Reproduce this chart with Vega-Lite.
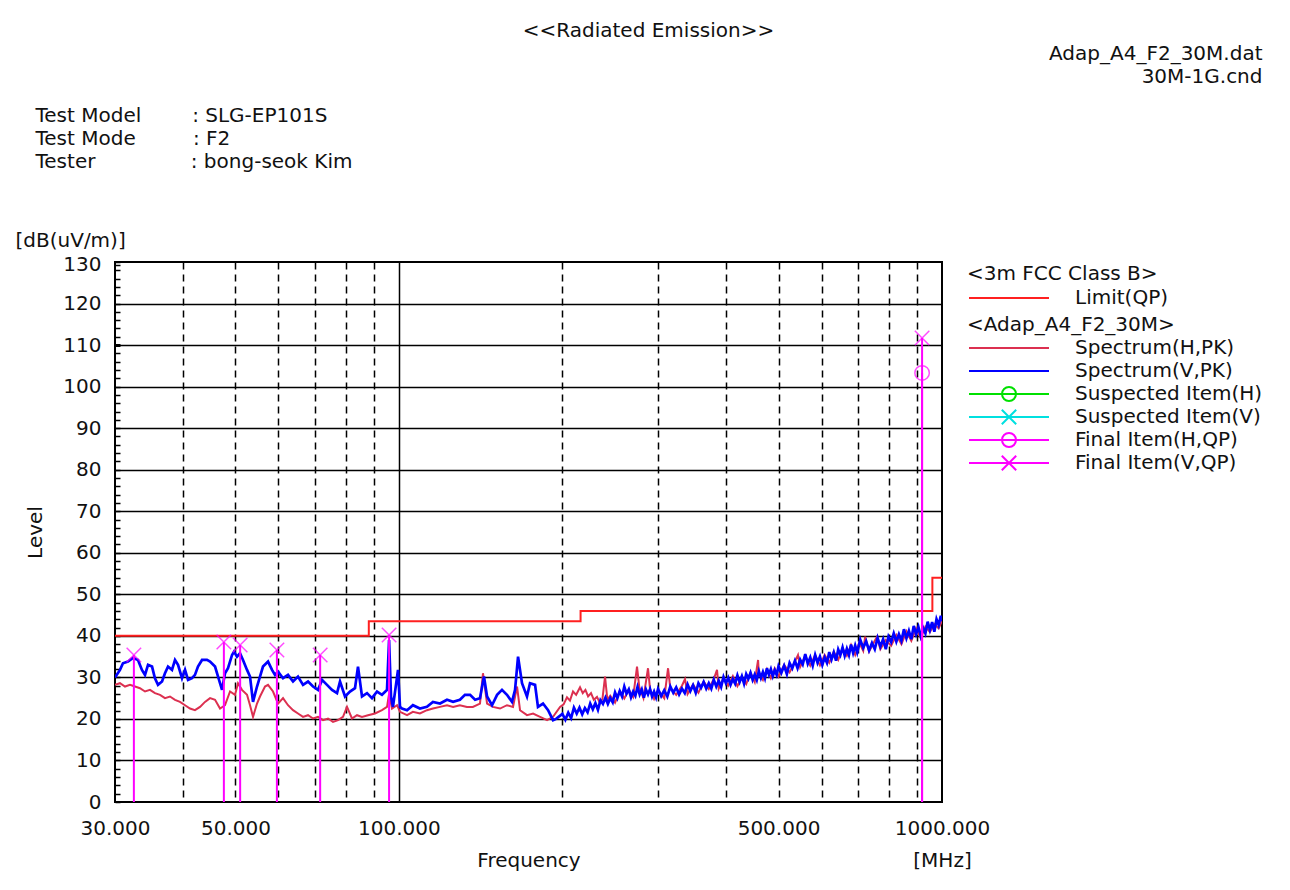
{
  "$schema": "https://vega.github.io/schema/vega-lite/v6.json",
  "width": 827,
  "height": 540,
  "autosize": {"type": "none"},
  "padding": {"left": 115, "top": 262, "right": 348, "bottom": 88},
  "background": "white",
  "config": {
    "font": "DejaVu Sans",
    "view": {"stroke": "#000", "strokeWidth": 2},
    "axis": {"labelFont": "DejaVu Sans", "titleFont": "DejaVu Sans", "labelColor": "#111", "titleColor": "#111", "labelFontSize": 20, "titleFontSize": 20, "titleFontWeight": "normal"},
    "legend": {"titleFont": "DejaVu Sans", "labelFont": "DejaVu Sans", "titleFontSize": 20, "labelFontSize": 20, "titleFontWeight": "normal", "titleColor": "#111", "labelColor": "#111", "labelLimit": 400, "titleLimit": 400}
  },
  "title": {"text": "<<Radiated Emission>>", "anchor": "middle", "frame": "group", "dx": 120, "offset": 2, "fontSize": 20, "fontWeight": "normal", "font": "DejaVu Sans", "color": "#111"},
  "datasets": {
    "limit": [
      {"name": "Limit(QP)", "freq": 30, "level": 40},
      {"name": "Limit(QP)", "freq": 88, "level": 43.5},
      {"name": "Limit(QP)", "freq": 216, "level": 46},
      {"name": "Limit(QP)", "freq": 960, "level": 54},
      {"name": "Limit(QP)", "freq": 1000, "level": 54}
    ],
    "final": [
      {"series": "Final Item(V,QP)", "freq": 32.5, "level": 35.4},
      {"series": "Final Item(V,QP)", "freq": 47.6, "level": 38.5},
      {"series": "Final Item(V,QP)", "freq": 51.0, "level": 37.8},
      {"series": "Final Item(V,QP)", "freq": 59.6, "level": 36.6},
      {"series": "Final Item(V,QP)", "freq": 71.6, "level": 35.4},
      {"series": "Final Item(V,QP)", "freq": 95.9, "level": 40.2},
      {"series": "Final Item(V,QP)", "freq": 919, "level": 111.7},
      {"series": "Final Item(H,QP)", "freq": 919, "level": 103.3}
    ],
    "spectrum": [
      {"series":"Spectrum(H,PK)","freq":30.0,"level":28.2},{"series":"Spectrum(H,PK)","freq":30.64,"level":28.6},{"series":"Spectrum(H,PK)","freq":31.30,"level":27.8},{"series":"Spectrum(H,PK)","freq":31.97,"level":28.2},{"series":"Spectrum(H,PK)","freq":32.65,"level":27.8},{"series":"Spectrum(H,PK)","freq":33.35,"level":27.4},{"series":"Spectrum(H,PK)","freq":34.07,"level":26.6},{"series":"Spectrum(H,PK)","freq":34.80,"level":27.0},{"series":"Spectrum(H,PK)","freq":35.54,"level":26.2},{"series":"Spectrum(H,PK)","freq":36.31,"level":25.8},{"series":"Spectrum(H,PK)","freq":37.08,"level":25.0},{"series":"Spectrum(H,PK)","freq":37.88,"level":25.4},{"series":"Spectrum(H,PK)","freq":38.69,"level":24.6},{"series":"Spectrum(H,PK)","freq":39.52,"level":24.1},{"series":"Spectrum(H,PK)","freq":40.37,"level":23.3},{"series":"Spectrum(H,PK)","freq":41.23,"level":22.5},{"series":"Spectrum(H,PK)","freq":42.11,"level":22.1},{"series":"Spectrum(H,PK)","freq":43.02,"level":22.9},{"series":"Spectrum(H,PK)","freq":43.94,"level":24.1},{"series":"Spectrum(H,PK)","freq":44.89,"level":25.0},{"series":"Spectrum(H,PK)","freq":45.85,"level":24.6},{"series":"Spectrum(H,PK)","freq":46.83,"level":22.5},{"series":"Spectrum(H,PK)","freq":47.83,"level":23.3},{"series":"Spectrum(H,PK)","freq":48.86,"level":26.6},{"series":"Spectrum(H,PK)","freq":49.90,"level":25.8},{"series":"Spectrum(H,PK)","freq":50.54,"level":28.6},{"series":"Spectrum(H,PK)","freq":51.40,"level":27.0},{"series":"Spectrum(H,PK)","freq":52.51,"level":25.8},{"series":"Spectrum(H,PK)","freq":53.18,"level":23.3},{"series":"Spectrum(H,PK)","freq":53.86,"level":20.5},{"series":"Spectrum(H,PK)","freq":54.78,"level":23.7},{"series":"Spectrum(H,PK)","freq":55.48,"level":25.4},{"series":"Spectrum(H,PK)","freq":56.67,"level":27.8},{"series":"Spectrum(H,PK)","freq":57.40,"level":28.2},{"series":"Spectrum(H,PK)","freq":58.63,"level":26.6},{"series":"Spectrum(H,PK)","freq":59.89,"level":23.7},{"series":"Spectrum(H,PK)","freq":61.17,"level":25.0},{"series":"Spectrum(H,PK)","freq":62.48,"level":23.3},{"series":"Spectrum(H,PK)","freq":63.82,"level":22.1},{"series":"Spectrum(H,PK)","freq":65.18,"level":21.3},{"series":"Spectrum(H,PK)","freq":66.58,"level":20.5},{"series":"Spectrum(H,PK)","freq":68.01,"level":20.9},{"series":"Spectrum(H,PK)","freq":69.47,"level":20.1},{"series":"Spectrum(H,PK)","freq":70.96,"level":20.5},{"series":"Spectrum(H,PK)","freq":72.48,"level":19.7},{"series":"Spectrum(H,PK)","freq":74.03,"level":20.1},{"series":"Spectrum(H,PK)","freq":75.61,"level":19.3},{"series":"Spectrum(H,PK)","freq":77.23,"level":19.7},{"series":"Spectrum(H,PK)","freq":78.88,"level":20.5},{"series":"Spectrum(H,PK)","freq":80.23,"level":22.9},{"series":"Spectrum(H,PK)","freq":81.95,"level":20.1},{"series":"Spectrum(H,PK)","freq":83.71,"level":20.9},{"series":"Spectrum(H,PK)","freq":85.50,"level":20.5},{"series":"Spectrum(H,PK)","freq":87.71,"level":20.9},{"series":"Spectrum(H,PK)","freq":90.35,"level":21.3},{"series":"Spectrum(H,PK)","freq":93.06,"level":22.1},{"series":"Spectrum(H,PK)","freq":95.06,"level":22.9},{"series":"Spectrum(H,PK)","freq":95.9,"level":26.0},{"series":"Spectrum(H,PK)","freq":97.1,"level":22.5},{"series":"Spectrum(H,PK)","freq":99.2,"level":23.3},{"series":"Spectrum(H,PK)","freq":100.45,"level":21.7},{"series":"Spectrum(H,PK)","freq":103.5,"level":20.9},{"series":"Spectrum(H,PK)","freq":106.1,"level":21.7},{"series":"Spectrum(H,PK)","freq":109.3,"level":21.3},{"series":"Spectrum(H,PK)","freq":112.6,"level":22.1},{"series":"Spectrum(H,PK)","freq":115.5,"level":22.5},{"series":"Spectrum(H,PK)","freq":119.0,"level":22.9},{"series":"Spectrum(H,PK)","freq":122.6,"level":23.3},{"series":"Spectrum(H,PK)","freq":125.8,"level":22.9},{"series":"Spectrum(H,PK)","freq":129.5,"level":23.3},{"series":"Spectrum(H,PK)","freq":133.4,"level":22.9},{"series":"Spectrum(H,PK)","freq":136.8,"level":22.9},{"series":"Spectrum(H,PK)","freq":141.0,"level":23.7},{"series":"Spectrum(H,PK)","freq":142.8,"level":31.0},{"series":"Spectrum(H,PK)","freq":145.3,"level":23.7},{"series":"Spectrum(H,PK)","freq":149.0,"level":22.9},{"series":"Spectrum(H,PK)","freq":153.5,"level":22.5},{"series":"Spectrum(H,PK)","freq":158.1,"level":23.3},{"series":"Spectrum(H,PK)","freq":162.2,"level":22.9},{"series":"Spectrum(H,PK)","freq":165.0,"level":27.8},{"series":"Spectrum(H,PK)","freq":167.1,"level":22.1},{"series":"Spectrum(H,PK)","freq":172.1,"level":20.9},{"series":"Spectrum(H,PK)","freq":176.6,"level":21.3},{"series":"Spectrum(H,PK)","freq":181.9,"level":20.5},{"series":"Spectrum(H,PK)","freq":187.4,"level":19.7},{"series":"Spectrum(H,PK)","freq":192.2,"level":20.5},{"series":"Spectrum(H,PK)","freq":198.0,"level":22.9},
      {"series":"Spectrum(H,PK)","freq":201,"level":23.5},{"series":"Spectrum(H,PK)","freq":203.9,"level":25.2},{"series":"Spectrum(H,PK)","freq":206.5,"level":24.4},{"series":"Spectrum(H,PK)","freq":209.2,"level":26.6},{"series":"Spectrum(H,PK)","freq":212,"level":25.8},{"series":"Spectrum(H,PK)","freq":215.5,"level":27.6},{"series":"Spectrum(H,PK)","freq":218,"level":26.2},{"series":"Spectrum(H,PK)","freq":220.5,"level":27.0},{"series":"Spectrum(H,PK)","freq":223,"level":25.4},{"series":"Spectrum(H,PK)","freq":225.8,"level":26.2},{"series":"Spectrum(H,PK)","freq":228.5,"level":24.6},{"series":"Spectrum(H,PK)","freq":231.6,"level":25.3},{"series":"Spectrum(H,PK)","freq":234.5,"level":23.8},{"series":"Spectrum(H,PK)","freq":237,"level":24.8},{"series":"Spectrum(H,PK)","freq":239.6,"level":30.2},{"series":"Spectrum(H,PK)","freq":242,"level":24.6},
      {"series":"Spectrum(H,PK)","freq":245,"level":25.6},{"series":"Spectrum(H,PK)","freq":250,"level":23.9},{"series":"Spectrum(H,PK)","freq":255,"level":26.7},{"series":"Spectrum(H,PK)","freq":260,"level":24.9},{"series":"Spectrum(H,PK)","freq":265,"level":27.0},{"series":"Spectrum(H,PK)","freq":270,"level":25.3},{"series":"Spectrum(H,PK)","freq":274.4,"level":32.6},{"series":"Spectrum(H,PK)","freq":277,"level":27.7},{"series":"Spectrum(H,PK)","freq":282,"level":25.0},{"series":"Spectrum(H,PK)","freq":287.5,"level":32.2},{"series":"Spectrum(H,PK)","freq":290,"level":27.2},{"series":"Spectrum(H,PK)","freq":295,"level":24.8},{"series":"Spectrum(H,PK)","freq":300,"level":26.9},{"series":"Spectrum(H,PK)","freq":308,"level":25.0},{"series":"Spectrum(H,PK)","freq":313,"level":32.2},{"series":"Spectrum(H,PK)","freq":316,"level":27.4},{"series":"Spectrum(H,PK)","freq":324,"level":25.8},{"series":"Spectrum(H,PK)","freq":332,"level":28.0},{"series":"Spectrum(H,PK)","freq":336.3,"level":29.6},{"series":"Spectrum(H,PK)","freq":340,"level":26.0},{"series":"Spectrum(H,PK)","freq":348,"level":28.3},{"series":"Spectrum(H,PK)","freq":356,"level":26.3},{"series":"Spectrum(H,PK)","freq":364,"level":29.0},{"series":"Spectrum(H,PK)","freq":372,"level":27.2},{"series":"Spectrum(H,PK)","freq":380,"level":29.6},{"series":"Spectrum(H,PK)","freq":385.2,"level":31.8},{"series":"Spectrum(H,PK)","freq":388,"level":27.3},{"series":"Spectrum(H,PK)","freq":396,"level":29.9},{"series":"Spectrum(H,PK)","freq":404,"level":28.0},{"series":"Spectrum(H,PK)","freq":412,"level":30.3},{"series":"Spectrum(H,PK)","freq":420,"level":27.9},{"series":"Spectrum(H,PK)","freq":428,"level":30.1},{"series":"Spectrum(H,PK)","freq":436,"level":28.4},{"series":"Spectrum(H,PK)","freq":444,"level":31.2},{"series":"Spectrum(H,PK)","freq":452,"level":28.9},{"series":"Spectrum(H,PK)","freq":458.5,"level":34.2},{"series":"Spectrum(H,PK)","freq":460,"level":31.0},{"series":"Spectrum(H,PK)","freq":468,"level":29.4},{"series":"Spectrum(H,PK)","freq":476,"level":32.0},{"series":"Spectrum(H,PK)","freq":484,"level":29.8},{"series":"Spectrum(H,PK)","freq":492,"level":32.2},{"series":"Spectrum(H,PK)","freq":500,"level":30.2},{"series":"Spectrum(H,PK)","freq":512,"level":33.0},{"series":"Spectrum(H,PK)","freq":524,"level":31.2},{"series":"Spectrum(H,PK)","freq":536,"level":33.8},{"series":"Spectrum(H,PK)","freq":543,"level":35.4},{"series":"Spectrum(H,PK)","freq":548,"level":32.5},{"series":"Spectrum(H,PK)","freq":560,"level":35.2},{"series":"Spectrum(H,PK)","freq":572,"level":32.8},{"series":"Spectrum(H,PK)","freq":584,"level":35.4},{"series":"Spectrum(H,PK)","freq":596,"level":32.9},{"series":"Spectrum(H,PK)","freq":608,"level":35.4},{"series":"Spectrum(H,PK)","freq":620,"level":33.5},{"series":"Spectrum(H,PK)","freq":632,"level":36.2},{"series":"Spectrum(H,PK)","freq":644,"level":34.2},{"series":"Spectrum(H,PK)","freq":656,"level":37.0},{"series":"Spectrum(H,PK)","freq":668,"level":35.2},{"series":"Spectrum(H,PK)","freq":680,"level":37.8},{"series":"Spectrum(H,PK)","freq":692,"level":35.4},{"series":"Spectrum(H,PK)","freq":704,"level":38.4},{"series":"Spectrum(H,PK)","freq":716,"level":36.4},{"series":"Spectrum(H,PK)","freq":721.9,"level":39.8},{"series":"Spectrum(H,PK)","freq":734,"level":36.2},{"series":"Spectrum(H,PK)","freq":752,"level":38.8},{"series":"Spectrum(H,PK)","freq":759.3,"level":39.8},{"series":"Spectrum(H,PK)","freq":770,"level":36.8},{"series":"Spectrum(H,PK)","freq":788,"level":39.0},{"series":"Spectrum(H,PK)","freq":806,"level":37.6},{"series":"Spectrum(H,PK)","freq":824,"level":40.2},{"series":"Spectrum(H,PK)","freq":842,"level":38.0},{"series":"Spectrum(H,PK)","freq":860,"level":41.1},{"series":"Spectrum(H,PK)","freq":878,"level":38.8},{"series":"Spectrum(H,PK)","freq":896,"level":41.8},{"series":"Spectrum(H,PK)","freq":914,"level":39.4},{"series":"Spectrum(H,PK)","freq":932,"level":42.2},{"series":"Spectrum(H,PK)","freq":950,"level":40.9},{"series":"Spectrum(H,PK)","freq":968,"level":42.8},{"series":"Spectrum(H,PK)","freq":986,"level":41.8},{"series":"Spectrum(H,PK)","freq":1000,"level":43.6},
      {"series":"Spectrum(V,PK)","freq":30.0,"level":30.0},{"series":"Spectrum(V,PK)","freq":30.64,"level":31.8},{"series":"Spectrum(V,PK)","freq":31.03,"level":33.4},{"series":"Spectrum(V,PK)","freq":31.70,"level":33.8},{"series":"Spectrum(V,PK)","freq":32.38,"level":34.7},{"series":"Spectrum(V,PK)","freq":33.07,"level":34.2},{"series":"Spectrum(V,PK)","freq":33.63,"level":31.8},{"series":"Spectrum(V,PK)","freq":34.07,"level":30.6},{"series":"Spectrum(V,PK)","freq":34.51,"level":33.0},{"series":"Spectrum(V,PK)","freq":35.10,"level":32.6},{"series":"Spectrum(V,PK)","freq":35.54,"level":29.8},{"series":"Spectrum(V,PK)","freq":36.00,"level":28.2},{"series":"Spectrum(V,PK)","freq":36.62,"level":29.0},{"series":"Spectrum(V,PK)","freq":37.08,"level":31.0},{"series":"Spectrum(V,PK)","freq":37.56,"level":32.6},{"series":"Spectrum(V,PK)","freq":38.20,"level":31.8},{"series":"Spectrum(V,PK)","freq":38.69,"level":34.2},{"series":"Spectrum(V,PK)","freq":39.19,"level":33.0},{"series":"Spectrum(V,PK)","freq":39.86,"level":29.8},{"series":"Spectrum(V,PK)","freq":40.37,"level":31.8},{"series":"Spectrum(V,PK)","freq":40.89,"level":29.4},{"series":"Spectrum(V,PK)","freq":41.58,"level":29.8},{"series":"Spectrum(V,PK)","freq":42.11,"level":30.6},{"series":"Spectrum(V,PK)","freq":42.65,"level":32.6},{"series":"Spectrum(V,PK)","freq":43.39,"level":34.2},{"series":"Spectrum(V,PK)","freq":44.31,"level":34.2},{"series":"Spectrum(V,PK)","freq":44.89,"level":33.8},{"series":"Spectrum(V,PK)","freq":45.85,"level":32.6},{"series":"Spectrum(V,PK)","freq":46.44,"level":30.2},{"series":"Spectrum(V,PK)","freq":47.23,"level":27.0},{"series":"Spectrum(V,PK)","freq":47.83,"level":31.0},{"series":"Spectrum(V,PK)","freq":48.44,"level":32.2},{"series":"Spectrum(V,PK)","freq":49.28,"level":35.4},{"series":"Spectrum(V,PK)","freq":49.70,"level":36.2},{"series":"Spectrum(V,PK)","freq":50.32,"level":35.0},{"series":"Spectrum(V,PK)","freq":50.97,"level":35.8},{"series":"Spectrum(V,PK)","freq":51.62,"level":34.2},{"series":"Spectrum(V,PK)","freq":52.51,"level":31.8},{"series":"Spectrum(V,PK)","freq":53.18,"level":30.2},{"series":"Spectrum(V,PK)","freq":53.86,"level":24.1},{"series":"Spectrum(V,PK)","freq":54.78,"level":27.8},{"series":"Spectrum(V,PK)","freq":55.48,"level":30.2},{"series":"Spectrum(V,PK)","freq":56.19,"level":32.6},{"series":"Spectrum(V,PK)","freq":57.40,"level":33.8},{"series":"Spectrum(V,PK)","freq":58.38,"level":31.8},{"series":"Spectrum(V,PK)","freq":59.13,"level":30.6},{"series":"Spectrum(V,PK)","freq":59.89,"level":31.4},{"series":"Spectrum(V,PK)","freq":61.17,"level":29.8},{"series":"Spectrum(V,PK)","freq":62.48,"level":30.6},{"series":"Spectrum(V,PK)","freq":63.82,"level":29.0},{"series":"Spectrum(V,PK)","freq":65.18,"level":30.2},{"series":"Spectrum(V,PK)","freq":66.58,"level":28.2},{"series":"Spectrum(V,PK)","freq":68.01,"level":29.0},{"series":"Spectrum(V,PK)","freq":69.47,"level":27.8},{"series":"Spectrum(V,PK)","freq":70.96,"level":27.0},{"series":"Spectrum(V,PK)","freq":72.17,"level":29.4},{"series":"Spectrum(V,PK)","freq":73.71,"level":28.2},{"series":"Spectrum(V,PK)","freq":75.29,"level":27.0},{"series":"Spectrum(V,PK)","freq":76.91,"level":26.2},{"series":"Spectrum(V,PK)","freq":77.89,"level":29.0},{"series":"Spectrum(V,PK)","freq":79.56,"level":25.4},{"series":"Spectrum(V,PK)","freq":81.26,"level":26.6},{"series":"Spectrum(V,PK)","freq":83.00,"level":27.4},{"series":"Spectrum(V,PK)","freq":84.06,"level":32.6},{"series":"Spectrum(V,PK)","freq":85.50,"level":25.4},{"series":"Spectrum(V,PK)","freq":87.34,"level":26.2},{"series":"Spectrum(V,PK)","freq":89.20,"level":25.0},{"series":"Spectrum(V,PK)","freq":91.12,"level":26.6},{"series":"Spectrum(V,PK)","freq":93.06,"level":25.8},{"series":"Spectrum(V,PK)","freq":95.06,"level":27.0},{"series":"Spectrum(V,PK)","freq":95.9,"level":39.0},{"series":"Spectrum(V,PK)","freq":96.69,"level":25.4},{"series":"Spectrum(V,PK)","freq":97.5,"level":22.9},{"series":"Spectrum(V,PK)","freq":99.6,"level":31.8},{"series":"Spectrum(V,PK)","freq":100.45,"level":22.9},{"series":"Spectrum(V,PK)","freq":101.3,"level":22.5},{"series":"Spectrum(V,PK)","freq":103.5,"level":22.1},{"series":"Spectrum(V,PK)","freq":106.1,"level":23.3},{"series":"Spectrum(V,PK)","freq":109.3,"level":22.5},{"series":"Spectrum(V,PK)","freq":112.6,"level":22.9},{"series":"Spectrum(V,PK)","freq":115.5,"level":24.1},{"series":"Spectrum(V,PK)","freq":119.0,"level":23.7},{"series":"Spectrum(V,PK)","freq":122.6,"level":24.6},{"series":"Spectrum(V,PK)","freq":125.8,"level":24.1},{"series":"Spectrum(V,PK)","freq":129.5,"level":24.6},{"series":"Spectrum(V,PK)","freq":132.3,"level":25.8},{"series":"Spectrum(V,PK)","freq":135.2,"level":25.8},{"series":"Spectrum(V,PK)","freq":138.1,"level":24.6},{"series":"Spectrum(V,PK)","freq":141.0,"level":25.0},{"series":"Spectrum(V,PK)","freq":143.4,"level":30.2},{"series":"Spectrum(V,PK)","freq":145.3,"level":25.4},{"series":"Spectrum(V,PK)","freq":148.4,"level":23.3},{"series":"Spectrum(V,PK)","freq":151.6,"level":25.8},{"series":"Spectrum(V,PK)","freq":154.8,"level":27.0},{"series":"Spectrum(V,PK)","freq":158.1,"level":25.8},{"series":"Spectrum(V,PK)","freq":161.5,"level":24.1},{"series":"Spectrum(V,PK)","freq":163.6,"level":27.0},{"series":"Spectrum(V,PK)","freq":165.7,"level":35.0},{"series":"Spectrum(V,PK)","freq":168.5,"level":28.6},{"series":"Spectrum(V,PK)","freq":172.1,"level":25.4},{"series":"Spectrum(V,PK)","freq":174.3,"level":28.6},{"series":"Spectrum(V,PK)","freq":178.1,"level":28.2},{"series":"Spectrum(V,PK)","freq":180.3,"level":22.9},{"series":"Spectrum(V,PK)","freq":184.2,"level":23.7},{"series":"Spectrum(V,PK)","freq":188.2,"level":22.1},{"series":"Spectrum(V,PK)","freq":192.2,"level":19.7},{"series":"Spectrum(V,PK)","freq":194.7,"level":20.0},
      {"series":"Spectrum(V,PK)","freq":200,"level":21.2},{"series":"Spectrum(V,PK)","freq":202.5,"level":19.8},{"series":"Spectrum(V,PK)","freq":205,"level":21.5},{"series":"Spectrum(V,PK)","freq":207.5,"level":20.2},{"series":"Spectrum(V,PK)","freq":210,"level":22.7},{"series":"Spectrum(V,PK)","freq":212.5,"level":21.3},{"series":"Spectrum(V,PK)","freq":215,"level":22.7},{"series":"Spectrum(V,PK)","freq":217.5,"level":21.1},{"series":"Spectrum(V,PK)","freq":220,"level":22.6},{"series":"Spectrum(V,PK)","freq":222.5,"level":21.6},{"series":"Spectrum(V,PK)","freq":225,"level":23.7},{"series":"Spectrum(V,PK)","freq":227.5,"level":22.3},{"series":"Spectrum(V,PK)","freq":230,"level":23.8},{"series":"Spectrum(V,PK)","freq":232.5,"level":22.2},{"series":"Spectrum(V,PK)","freq":235,"level":24.5},{"series":"Spectrum(V,PK)","freq":237.5,"level":23.6},{"series":"Spectrum(V,PK)","freq":240,"level":25.1},{"series":"Spectrum(V,PK)","freq":242.5,"level":23.6},{"series":"Spectrum(V,PK)","freq":245,"level":25.0},{"series":"Spectrum(V,PK)","freq":247.5,"level":24.0},{"series":"Spectrum(V,PK)","freq":250,"level":26.4},{"series":"Spectrum(V,PK)","freq":252.5,"level":25.0},{"series":"Spectrum(V,PK)","freq":255,"level":26.7},{"series":"Spectrum(V,PK)","freq":257.5,"level":25.4},{"series":"Spectrum(V,PK)","freq":260,"level":27.8},{"series":"Spectrum(V,PK)","freq":262.5,"level":26.1},{"series":"Spectrum(V,PK)","freq":265,"level":27.1},{"series":"Spectrum(V,PK)","freq":267.5,"level":25.2},{"series":"Spectrum(V,PK)","freq":270,"level":26.6},{"series":"Spectrum(V,PK)","freq":272.5,"level":25.6},{"series":"Spectrum(V,PK)","freq":275,"level":27.7},{"series":"Spectrum(V,PK)","freq":277.5,"level":25.9},{"series":"Spectrum(V,PK)","freq":280,"level":27.1},{"series":"Spectrum(V,PK)","freq":282.5,"level":25.1},{"series":"Spectrum(V,PK)","freq":285,"level":27.1},{"series":"Spectrum(V,PK)","freq":287.5,"level":25.9},{"series":"Spectrum(V,PK)","freq":290,"level":27.2},{"series":"Spectrum(V,PK)","freq":292.5,"level":25.4},{"series":"Spectrum(V,PK)","freq":295,"level":26.6},{"series":"Spectrum(V,PK)","freq":297.5,"level":25.2},{"series":"Spectrum(V,PK)","freq":300,"level":27.2},
      {"series":"Spectrum(V,PK)","freq":304,"level":25.5},{"series":"Spectrum(V,PK)","freq":308,"level":26.9},{"series":"Spectrum(V,PK)","freq":312,"level":25.4},{"series":"Spectrum(V,PK)","freq":316,"level":27.8},{"series":"Spectrum(V,PK)","freq":320,"level":26.3},{"series":"Spectrum(V,PK)","freq":324,"level":27.6},{"series":"Spectrum(V,PK)","freq":328,"level":25.9},{"series":"Spectrum(V,PK)","freq":332,"level":27.3},{"series":"Spectrum(V,PK)","freq":336,"level":26.2},{"series":"Spectrum(V,PK)","freq":340,"level":28.3},{"series":"Spectrum(V,PK)","freq":344,"level":26.7},{"series":"Spectrum(V,PK)","freq":348,"level":28.1},{"series":"Spectrum(V,PK)","freq":352,"level":26.3},{"series":"Spectrum(V,PK)","freq":356,"level":28.6},{"series":"Spectrum(V,PK)","freq":360,"level":27.5},{"series":"Spectrum(V,PK)","freq":364,"level":28.9},{"series":"Spectrum(V,PK)","freq":368,"level":27.3},{"series":"Spectrum(V,PK)","freq":372,"level":28.6},{"series":"Spectrum(V,PK)","freq":376,"level":27.3},{"series":"Spectrum(V,PK)","freq":380,"level":29.4},{"series":"Spectrum(V,PK)","freq":384,"level":27.8},{"series":"Spectrum(V,PK)","freq":388,"level":29.2},{"series":"Spectrum(V,PK)","freq":392,"level":27.7},{"series":"Spectrum(V,PK)","freq":396,"level":30.1},{"series":"Spectrum(V,PK)","freq":400,"level":28.6},{"series":"Spectrum(V,PK)","freq":404,"level":29.9},{"series":"Spectrum(V,PK)","freq":408,"level":28.2},{"series":"Spectrum(V,PK)","freq":412,"level":29.6},{"series":"Spectrum(V,PK)","freq":416,"level":28.5},{"series":"Spectrum(V,PK)","freq":420,"level":30.5},{"series":"Spectrum(V,PK)","freq":424,"level":28.9},{"series":"Spectrum(V,PK)","freq":428,"level":30.3},{"series":"Spectrum(V,PK)","freq":432,"level":28.5},{"series":"Spectrum(V,PK)","freq":436,"level":30.8},{"series":"Spectrum(V,PK)","freq":440,"level":29.7},{"series":"Spectrum(V,PK)","freq":444,"level":31.1},{"series":"Spectrum(V,PK)","freq":448,"level":29.4},{"series":"Spectrum(V,PK)","freq":452,"level":30.7},{"series":"Spectrum(V,PK)","freq":456,"level":29.4},{"series":"Spectrum(V,PK)","freq":460,"level":31.5},{"series":"Spectrum(V,PK)","freq":464,"level":29.9},{"series":"Spectrum(V,PK)","freq":468,"level":31.3},{"series":"Spectrum(V,PK)","freq":472,"level":29.8},{"series":"Spectrum(V,PK)","freq":476,"level":32.2},{"series":"Spectrum(V,PK)","freq":480,"level":30.7},{"series":"Spectrum(V,PK)","freq":484,"level":32.0},{"series":"Spectrum(V,PK)","freq":488,"level":30.3},{"series":"Spectrum(V,PK)","freq":492,"level":31.7},{"series":"Spectrum(V,PK)","freq":496,"level":30.6},{"series":"Spectrum(V,PK)","freq":500,"level":32.7},
      {"series":"Spectrum(V,PK)","freq":506,"level":31.1},{"series":"Spectrum(V,PK)","freq":512,"level":32.8},{"series":"Spectrum(V,PK)","freq":518,"level":30.8},{"series":"Spectrum(V,PK)","freq":524,"level":33.5},{"series":"Spectrum(V,PK)","freq":530,"level":32.2},{"series":"Spectrum(V,PK)","freq":536,"level":34.0},{"series":"Spectrum(V,PK)","freq":542,"level":32.2},{"series":"Spectrum(V,PK)","freq":548,"level":34.3},{"series":"Spectrum(V,PK)","freq":554,"level":33.1},{"series":"Spectrum(V,PK)","freq":560,"level":35.6},{"series":"Spectrum(V,PK)","freq":566,"level":33.3},{"series":"Spectrum(V,PK)","freq":572,"level":34.8},{"series":"Spectrum(V,PK)","freq":578,"level":32.8},{"series":"Spectrum(V,PK)","freq":584,"level":35.4},{"series":"Spectrum(V,PK)","freq":590,"level":33.5},{"series":"Spectrum(V,PK)","freq":596,"level":35.0},{"series":"Spectrum(V,PK)","freq":602,"level":33.0},{"series":"Spectrum(V,PK)","freq":608,"level":34.8},{"series":"Spectrum(V,PK)","freq":614,"level":33.5},{"series":"Spectrum(V,PK)","freq":620,"level":36.1},{"series":"Spectrum(V,PK)","freq":626,"level":34.3},{"series":"Spectrum(V,PK)","freq":632,"level":36.0},{"series":"Spectrum(V,PK)","freq":638,"level":34.0},{"series":"Spectrum(V,PK)","freq":644,"level":36.7},{"series":"Spectrum(V,PK)","freq":650,"level":35.4},{"series":"Spectrum(V,PK)","freq":656,"level":37.2},{"series":"Spectrum(V,PK)","freq":662,"level":35.2},{"series":"Spectrum(V,PK)","freq":668,"level":36.9},{"series":"Spectrum(V,PK)","freq":674,"level":35.4},{"series":"Spectrum(V,PK)","freq":680,"level":37.9},{"series":"Spectrum(V,PK)","freq":686,"level":35.9},{"series":"Spectrum(V,PK)","freq":692,"level":37.7},{"series":"Spectrum(V,PK)","freq":698,"level":36.0},
      {"series":"Spectrum(V,PK)","freq":707,"level":39.1},{"series":"Spectrum(V,PK)","freq":716,"level":37.1},{"series":"Spectrum(V,PK)","freq":725,"level":38.7},{"series":"Spectrum(V,PK)","freq":734,"level":36.5},{"series":"Spectrum(V,PK)","freq":743,"level":38.3},{"series":"Spectrum(V,PK)","freq":752,"level":36.8},{"series":"Spectrum(V,PK)","freq":761,"level":39.5},{"series":"Spectrum(V,PK)","freq":770,"level":37.4},{"series":"Spectrum(V,PK)","freq":779,"level":39.2},{"series":"Spectrum(V,PK)","freq":788,"level":36.8},{"series":"Spectrum(V,PK)","freq":797,"level":39.8},{"series":"Spectrum(V,PK)","freq":806,"level":38.5},{"series":"Spectrum(V,PK)","freq":815,"level":40.6},{"series":"Spectrum(V,PK)","freq":824,"level":38.6},{"series":"Spectrum(V,PK)","freq":833,"level":40.4},{"series":"Spectrum(V,PK)","freq":842,"level":38.8},{"series":"Spectrum(V,PK)","freq":851,"level":41.6},{"series":"Spectrum(V,PK)","freq":860,"level":39.4},{"series":"Spectrum(V,PK)","freq":869,"level":41.2},{"series":"Spectrum(V,PK)","freq":878,"level":39.2},{"series":"Spectrum(V,PK)","freq":887,"level":42.4},{"series":"Spectrum(V,PK)","freq":896,"level":40.4},{"series":"Spectrum(V,PK)","freq":905,"level":42.1},{"series":"Spectrum(V,PK)","freq":914,"level":39.9},{"series":"Spectrum(V,PK)","freq":923,"level":41.9},{"series":"Spectrum(V,PK)","freq":932,"level":40.6},{"series":"Spectrum(V,PK)","freq":941,"level":43.4},{"series":"Spectrum(V,PK)","freq":950,"level":41.4},{"series":"Spectrum(V,PK)","freq":959,"level":43.3},{"series":"Spectrum(V,PK)","freq":968,"level":41.0},{"series":"Spectrum(V,PK)","freq":977,"level":44.0},{"series":"Spectrum(V,PK)","freq":986,"level":42.6},{"series":"Spectrum(V,PK)","freq":995,"level":44.8},{"series":"Spectrum(V,PK)","freq":1000,"level":43.5}
    ]
  },
  "layer": [
    {
      "data": {"name": "spectrum"},
      "transform": [{"filter": "datum.series === 'Spectrum(H,PK)'"}],
      "mark": {"type": "line", "strokeWidth": 2, "clip": true},
      "encoding": {
        "x": {
          "field": "freq", "type": "quantitative",
          "scale": {"type": "log", "domain": [30, 1000], "nice": false},
          "axis": {
            "values": [30, 40, 50, 60, 70, 80, 90, 100, 200, 300, 400, 500, 600, 700, 800, 900, 1000],
            "labelExpr": "datum.value === 1000 ? ['1000.000', '[MHz]'] : (indexof([30, 50, 100, 500], datum.value) >= 0 ? format(datum.value, '.3f') : '')",
            "labelLineHeight": 32, "labelPadding": 16, "labelFlush": false, "labelOverlap": false, "labelBound": false,
            "ticks": false, "tickSize": 0, "domain": false,
            "grid": true, "gridColor": "#000", "gridWidth": 1.5,
            "gridDash": {"condition": {"test": "datum.value === 100", "value": []}, "value": [7, 5]},
            "gridOpacity": {"condition": {"test": "datum.value === 30 || datum.value === 1000", "value": 0}, "value": 1},
            "title": "Frequency", "titleY": 58, "titleBaseline": "middle"
          }
        },
        "y": {
          "field": "level", "type": "quantitative",
          "scale": {"domain": [0, 130], "nice": false},
          "axis": {
            "values": [0,2,4,6,8,10,12,14,16,18,20,22,24,26,28,30,32,34,36,38,40,42,44,46,48,50,52,54,56,58,60,62,64,66,68,70,72,74,76,78,80,82,84,86,88,90,92,94,96,98,100,102,104,106,108,110,112,114,116,118,120,122,124,126,128,129.3,130],
            "ticks": true, "tickSize": -5, "tickColor": "#000",
            "tickWidth": {"condition": {"test": "datum.value === 110", "value": 3}, "value": 1.5},
            "labelExpr": "datum.value === 130 ? '[dB(uV/m)]' : (datum.value > 129 ? '130' : (datum.value % 10 === 0 ? '' + datum.value : ''))",
            "labelAlign": {"condition": {"test": "datum.value === 130", "value": "left"}, "value": "right"},
            "labelPadding": {"condition": {"test": "datum.value === 130", "value": 105}, "value": 19},
            "labelOffset": {"condition": {"test": "datum.value === 130", "value": -22}, "value": 0},
            "labelOverlap": false, "labelBound": false, "labelFlush": false,
            "domain": false,
            "grid": true, "gridColor": "#000", "gridWidth": 1.5,
            "gridOpacity": {"condition": {"test": "datum.value % 10 === 0 && datum.value > 0 && datum.value < 130", "value": 1}, "value": 0},
            "title": "Level", "titleX": -80, "titleBaseline": "middle"
          }
        },
        "color": {
          "field": "series", "type": "nominal",
          "scale": {
            "domain": ["Spectrum(H,PK)", "Spectrum(V,PK)", "Suspected Item(H)", "Suspected Item(V)", "Final Item(H,QP)", "Final Item(V,QP)"],
            "range": ["#dc3050", "#0000ff", "#00e000", "#00e0e0", "#ff00ff", "#ff00ff"]
          },
          "legend": {
            "orient": "none", "legendX": 852, "legendY": 53,
            "title": "<Adap_A4_F2_30M>",
            "symbolType": "M-1,0L9,0", "symbolSize": 256, "symbolStrokeWidth": 2,
            "labelOffset": 88, "padding": 0, "titlePadding": 3, "rowPadding": -1, "gridAlign": "all",
            "encode": {
              "symbols": {
                "update": {
                  "shape": {"signal": "datum.value === 'Suspected Item(H)' || datum.value === 'Final Item(H,QP)' ? 'M-1,0L9,0M4.875,0A0.875,0.875,0,1,1,3.125,0A0.875,0.875,0,1,1,4.875,0' : (datum.value === 'Suspected Item(V)' || datum.value === 'Final Item(V,QP)' ? 'M-1,0L9,0M3.1,-0.9L4.9,0.9M4.9,-0.9L3.1,0.9' : 'M-1,0L9,0')"},
                  "fill": {"value": "transparent"}
                }
              }
            }
          }
        }
      }
    },
    {
      "data": {"name": "spectrum"},
      "transform": [{"filter": "datum.series === 'Spectrum(V,PK)'"}],
      "mark": {"type": "line", "strokeWidth": 2.7, "clip": true},
      "encoding": {
        "x": {"field": "freq", "type": "quantitative", "axis": null},
        "y": {"field": "level", "type": "quantitative", "axis": null},
        "color": {"field": "series", "type": "nominal"}
      }
    },
    {
      "data": {"name": "limit"},
      "mark": {"type": "line", "interpolate": "step-after", "strokeWidth": 2},
      "encoding": {
        "x": {
          "field": "freq", "type": "quantitative",
          "axis": {
            "orient": "top", "domain": false, "ticks": false, "labels": false, "grid": false,
            "title": ["Test Model\u00a0\u00a0\u00a0\u00a0\u00a0\u00a0\u00a0\u00a0: SLG-EP101S", "Test Mode\u00a0\u00a0\u00a0\u00a0\u00a0\u00a0\u00a0\u00a0\u00a0: F2", "Tester\u00a0\u00a0\u00a0\u00a0\u00a0\u00a0\u00a0\u00a0\u00a0\u00a0\u00a0\u00a0\u00a0\u00a0\u00a0: bong-seok Kim"],
            "titleX": -80, "titleY": -147, "titleAlign": "left", "titleAngle": 0, "titleBaseline": "middle", "titleLineHeight": 23
          }
        },
        "y": {
          "field": "level", "type": "quantitative",
          "axis": {
            "orient": "right", "domain": false, "ticks": false, "labels": false, "grid": false,
            "title": ["Adap_A4_F2_30M.dat", "30M-1G.cnd"],
            "titleX": 320, "titleY": -209, "titleAlign": "right", "titleAngle": 0, "titleBaseline": "middle", "titleLineHeight": 23
          }
        },
        "stroke": {
          "field": "name", "type": "nominal",
          "scale": {"domain": ["Limit(QP)"], "range": ["#ff2020"]},
          "legend": {
            "orient": "none", "legendX": 852, "legendY": 2,
            "title": "<3m FCC Class B>",
            "symbolType": "M-1,0L9,0", "symbolSize": 256, "symbolStrokeWidth": 2,
            "labelOffset": 88, "padding": 0, "titlePadding": 4, "rowPadding": 2
          }
        }
      }
    },
    {
      "data": {"name": "final"},
      "mark": {"type": "rule", "strokeWidth": 2},
      "encoding": {
        "x": {"field": "freq", "type": "quantitative", "axis": null},
        "y": {"field": "level", "type": "quantitative", "axis": null},
        "y2": {"datum": 0},
        "color": {"field": "series", "type": "nominal"}
      }
    },
    {
      "data": {"name": "final"},
      "mark": {"type": "point", "filled": false, "size": 210, "strokeWidth": 1.5, "opacity": 0.7},
      "encoding": {
        "x": {"field": "freq", "type": "quantitative", "axis": null},
        "y": {"field": "level", "type": "quantitative", "axis": null},
        "color": {"field": "series", "type": "nominal"},
        "shape": {"field": "series", "type": "nominal", "scale": {"domain": ["Final Item(H,QP)", "Final Item(V,QP)"], "range": ["circle", "M-1,-1L1,1M1,-1L-1,1"]}, "legend": null}
      }
    }
  ],
  "resolve": {"axis": {"x": "independent", "y": "independent"}}
}
